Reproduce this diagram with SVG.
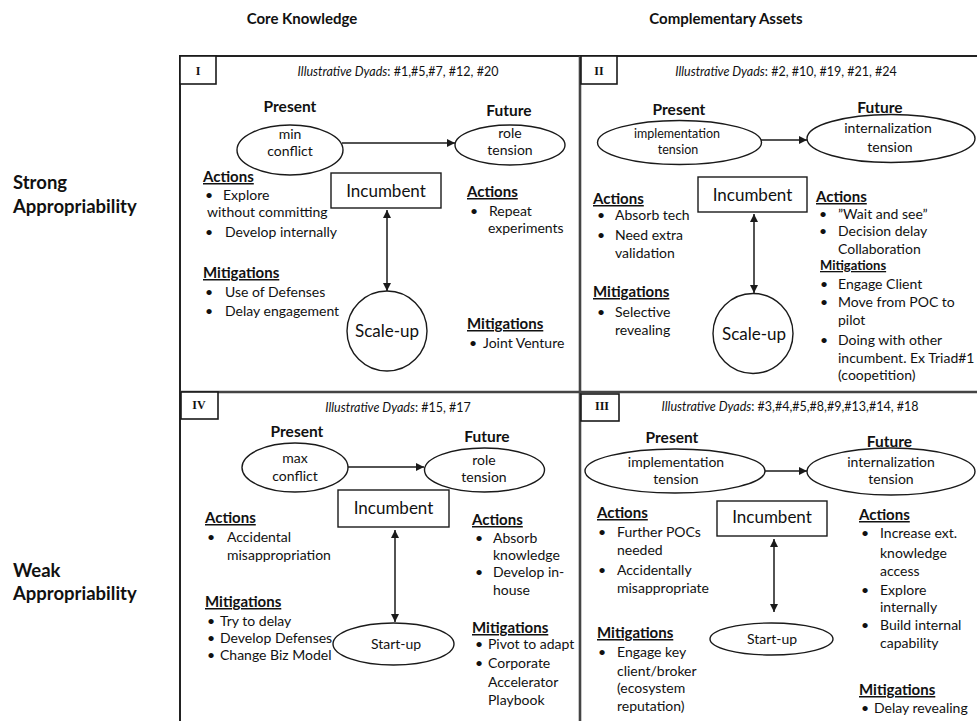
<svg xmlns="http://www.w3.org/2000/svg" width="977" height="721" viewBox="0 0 977 721">
  <style>
    text { font-family: Lato, "Liberation Sans", sans-serif; fill: #111; }
    .hdr { font-weight: bold; font-size: 15px; }
    .row { font-weight: bold; font-size: 18.5px; }
    .lbl { font-weight: bold; font-size: 15.5px; text-anchor: middle; }
    .in { font-size: 14px; text-anchor: middle; }
    .in-sm { font-size: 12.5px; text-anchor: middle; }
    .node { font-size: 17px; text-anchor: middle; }
    .sec { font-weight: bold; font-size: 15px; text-decoration: underline; }
    .sec-sm { font-weight: bold; font-size: 13px; text-decoration: underline; }
    .b { font-size: 14px; }
    .dy { font-size: 12.5px; text-anchor: middle; }
    .dy tspan.it { font-style: italic; }
    .num { font-family: "Liberation Serif", serif; font-weight: bold; font-size: 12px; text-anchor: middle; }
    .shape { fill: #fff; stroke: #1a1a1a; stroke-width: 1.4; }
    .tag { fill: #fff; stroke: #1a1a1a; stroke-width: 1.6; }
    .frame { stroke: #222; stroke-width: 2; fill: none; }
    .div { stroke: #444; stroke-width: 2.6; fill: none; }
    .arrow { stroke: #1a1a1a; stroke-width: 1.5; fill: none; marker-end: url(#head); }
    .arrow2 { stroke: #1a1a1a; stroke-width: 1.5; fill: none; marker-start: url(#head); marker-end: url(#head); }
  </style>
  <defs>
    <marker id="head" viewBox="0 0 10 10" refX="10" refY="5" markerWidth="9" markerHeight="8" markerUnits="userSpaceOnUse" orient="auto-start-reverse">
      <path d="M0,0 L10,5 L0,10 Z" fill="#1a1a1a"/>
    </marker>
  </defs>
  <rect width="977" height="721" fill="#fff"/>

  <!-- column and row headings -->
  <g id="headings">
    <text class="hdr" x="302" y="24" text-anchor="middle">Core Knowledge</text>
    <text class="hdr" x="726" y="24" text-anchor="middle">Complementary Assets</text>
    <text class="row" x="13" y="189">Strong</text>
    <text class="row" x="13" y="213">Appropriability</text>
    <text class="row" x="13" y="577">Weak</text>
    <text class="row" x="13" y="600">Appropriability</text>
  </g>

  <!-- 2x2 grid -->
  <g id="grid">
    <path class="frame" d="M180,721 V56 H977"/>
    <path class="div" d="M580,56 V721"/>
    <path class="div" d="M180,392 H977"/>
  </g>

  <!-- Quadrant I -->
  <g id="quadrant-1">
    <g id="q1-tag"><rect class="tag" x="180" y="56" width="36" height="28"/><text class="num" x="198" y="75">I</text></g>
    <text class="dy" x="398" y="76"><tspan class="it">Illustrative Dyads</tspan>: #1,#5,#7, #12, #20</text>
    <g id="q1-present">
      <text class="lbl" x="290" y="112">Present</text>
      <ellipse class="shape" cx="290" cy="150" rx="53" ry="25"/>
      <text class="in" x="290" y="139">min</text>
      <text class="in" x="290" y="156">conflict</text>
    </g>
    <g id="q1-future">
      <text class="lbl" x="509" y="116">Future</text>
      <ellipse class="shape" cx="510" cy="145" rx="55" ry="20"/>
      <text class="in" x="510" y="138">role</text>
      <text class="in" x="510" y="155">tension</text>
    </g>
    <g id="q1-incumbent">
      <rect class="shape" x="331" y="173" width="110" height="35"/>
      <text class="node" x="386" y="197">Incumbent</text>
    </g>
    <g id="q1-scaleup">
      <circle class="shape" cx="387" cy="331" r="40"/>
      <text class="node" x="387" y="337">Scale-up</text>
    </g>
    <g id="q1-notes">
      <text class="sec" x="203" y="182">Actions</text>
      <text class="b" x="205" y="200">•</text><text class="b" x="223" y="200">Explore</text>
      <text class="b" x="207" y="217">without committing</text>
      <text class="b" x="205" y="237">•</text><text class="b" x="225" y="237">Develop internally</text>
      <text class="sec" x="203" y="278">Mitigations</text>
      <text class="b" x="205" y="297">•</text><text class="b" x="225" y="297">Use of Defenses</text>
      <text class="b" x="205" y="316">•</text><text class="b" x="225" y="316">Delay engagement</text>
      <text class="sec" x="467" y="197">Actions</text>
      <text class="b" x="470" y="216">•</text><text class="b" x="489" y="216">Repeat</text>
      <text class="b" x="488" y="233">experiments</text>
      <text class="sec" x="467" y="329">Mitigations</text>
      <text class="b" x="469" y="348">•</text><text class="b" x="483" y="348">Joint Venture</text>
    </g>
  </g>

  <!-- Quadrant II -->
  <g id="quadrant-2">
    <g id="q2-tag"><rect class="tag" x="581" y="56" width="36" height="28"/><text class="num" x="599" y="75">II</text></g>
    <text class="dy" x="786" y="76"><tspan class="it">Illustrative Dyads</tspan>: #2, #10, #19, #21, #24</text>
    <g id="q2-present">
      <text class="lbl" x="679" y="115">Present</text>
      <ellipse class="shape" cx="679.5" cy="142.5" rx="82" ry="22"/>
      <text class="in-sm" x="677" y="138">implementation</text>
      <text class="in-sm" x="678" y="154">tension</text>
    </g>
    <g id="q2-future">
      <text class="lbl" x="880" y="113">Future</text>
      <ellipse class="shape" cx="891" cy="138.5" rx="84" ry="24"/>
      <text class="in" x="888" y="133">internalization</text>
      <text class="in" x="890" y="152">tension</text>
    </g>
    <g id="q2-incumbent">
      <rect class="shape" x="698" y="177" width="109" height="35"/>
      <text class="node" x="752.5" y="201">Incumbent</text>
    </g>
    <g id="q2-scaleup">
      <circle class="shape" cx="753" cy="333.5" r="40"/>
      <text class="node" x="754" y="340">Scale-up</text>
    </g>
    <g id="q2-notes">
      <text class="sec" x="593" y="204">Actions</text>
      <text class="b" x="597" y="220">•</text><text class="b" x="615" y="220">Absorb tech</text>
      <text class="b" x="597" y="240">•</text><text class="b" x="615" y="240">Need extra</text>
      <text class="b" x="615" y="258">validation</text>
      <text class="sec" x="593" y="297">Mitigations</text>
      <text class="b" x="597" y="317">•</text><text class="b" x="615" y="317">Selective</text>
      <text class="b" x="615" y="335">revealing</text>
      <text class="sec" x="816" y="202">Actions</text>
      <text class="b" x="819" y="219">•</text><text class="b" x="838" y="219">”Wait and see”</text>
      <text class="b" x="819" y="236">•</text><text class="b" x="838" y="236">Decision delay</text>
      <text class="b" x="838" y="254">Collaboration</text>
      <text class="sec-sm" x="820" y="270">Mitigations</text>
      <text class="b" x="820" y="289">•</text><text class="b" x="838" y="289">Engage Client</text>
      <text class="b" x="820" y="307">•</text><text class="b" x="838" y="307">Move from POC to</text>
      <text class="b" x="838" y="325">pilot</text>
      <text class="b" x="820" y="345">•</text><text class="b" x="838" y="345">Doing with other</text>
      <text class="b" x="838" y="363">incumbent. Ex Triad#1</text>
      <text class="b" x="838" y="380">(coopetition)</text>
    </g>
  </g>

  <!-- Quadrant IV -->
  <g id="quadrant-4">
    <g id="q4-tag"><rect class="tag" x="181" y="392" width="37" height="27"/><text class="num" x="199" y="409">IV</text></g>
    <text class="dy" x="398" y="412"><tspan class="it">Illustrative Dyads</tspan>: #15, #17</text>
    <g id="q4-present">
      <text class="lbl" x="297" y="437">Present</text>
      <ellipse class="shape" cx="295" cy="467.5" rx="53" ry="24.5"/>
      <text class="in" x="295" y="463">max</text>
      <text class="in" x="295" y="481">conflict</text>
    </g>
    <g id="q4-future">
      <text class="lbl" x="487" y="442">Future</text>
      <ellipse class="shape" cx="484.5" cy="470" rx="60" ry="22"/>
      <text class="in" x="484" y="465">role</text>
      <text class="in" x="484" y="482">tension</text>
    </g>
    <g id="q4-incumbent">
      <rect class="shape" x="338" y="490" width="111" height="37"/>
      <text class="node" x="393.5" y="514">Incumbent</text>
    </g>
    <g id="q4-startup">
      <ellipse class="shape" cx="393.5" cy="644" rx="60.5" ry="21"/>
      <text class="in" x="396" y="649">Start-up</text>
    </g>
    <g id="q4-notes">
      <text class="sec" x="205" y="523">Actions</text>
      <text class="b" x="207" y="542">•</text><text class="b" x="227" y="542">Accidental</text>
      <text class="b" x="227" y="560">misappropriation</text>
      <text class="sec" x="205" y="607">Mitigations</text>
      <text class="b" x="207" y="626">•</text><text class="b" x="220" y="626">Try to delay</text>
      <text class="b" x="207" y="643">•</text><text class="b" x="220" y="643">Develop Defenses</text>
      <text class="b" x="207" y="660">•</text><text class="b" x="220" y="660">Change Biz Model</text>
      <text class="sec" x="472" y="525">Actions</text>
      <text class="b" x="475" y="543">•</text><text class="b" x="493" y="543">Absorb</text>
      <text class="b" x="493" y="560">knowledge</text>
      <text class="b" x="475" y="577">•</text><text class="b" x="493" y="577">Develop in-</text>
      <text class="b" x="493" y="595">house</text>
      <text class="sec" x="472" y="633">Mitigations</text>
      <text class="b" x="475" y="649">•</text><text class="b" x="488" y="649">Pivot to adapt</text>
      <text class="b" x="475" y="668">•</text><text class="b" x="488" y="668">Corporate</text>
      <text class="b" x="488" y="687">Accelerator</text>
      <text class="b" x="488" y="705">Playbook</text>
    </g>
  </g>

  <!-- Quadrant III -->
  <g id="quadrant-3">
    <g id="q3-tag"><rect class="tag" x="581" y="394" width="38" height="27"/><text class="num" x="602" y="410">III</text></g>
    <text class="dy" x="790" y="411"><tspan class="it">Illustrative Dyads</tspan>: #3,#4,#5,#8,#9,#13,#14, #18</text>
    <g id="q3-present">
      <text class="lbl" x="672" y="443">Present</text>
      <ellipse class="shape" cx="675" cy="471" rx="90" ry="22"/>
      <text class="in" x="676" y="467">implementation</text>
      <text class="in" x="676" y="484">tension</text>
    </g>
    <g id="q3-future">
      <text class="lbl" x="889.5" y="447">Future</text>
      <ellipse class="shape" cx="891" cy="471.5" rx="84" ry="23.5"/>
      <text class="in" x="891" y="467">internalization</text>
      <text class="in" x="891" y="484">tension</text>
    </g>
    <g id="q3-incumbent">
      <rect class="shape" x="717" y="501" width="110" height="35"/>
      <text class="node" x="772" y="523">Incumbent</text>
    </g>
    <g id="q3-startup">
      <ellipse class="shape" cx="771.5" cy="639" rx="61.5" ry="16"/>
      <text class="in" x="772" y="644">Start-up</text>
    </g>
    <g id="q3-notes">
      <text class="sec" x="597" y="518">Actions</text>
      <text class="b" x="598" y="537">•</text><text class="b" x="617" y="537">Further POCs</text>
      <text class="b" x="617" y="555">needed</text>
      <text class="b" x="598" y="575">•</text><text class="b" x="617" y="575">Accidentally</text>
      <text class="b" x="617" y="593">misappropriate</text>
      <text class="sec" x="597" y="638">Mitigations</text>
      <text class="b" x="598" y="657">•</text><text class="b" x="617" y="657">Engage key</text>
      <text class="b" x="617" y="676">client/broker</text>
      <text class="b" x="617" y="693">(ecosystem</text>
      <text class="b" x="617" y="711">reputation)</text>
      <text class="sec" x="859" y="520">Actions</text>
      <text class="b" x="861" y="538">•</text><text class="b" x="880" y="538">Increase ext.</text>
      <text class="b" x="880" y="558">knowledge</text>
      <text class="b" x="880" y="576">access</text>
      <text class="b" x="861" y="595">•</text><text class="b" x="880" y="595">Explore</text>
      <text class="b" x="880" y="612">internally</text>
      <text class="b" x="861" y="630">•</text><text class="b" x="880" y="630">Build internal</text>
      <text class="b" x="880" y="648">capability</text>
      <text class="sec" x="859" y="695">Mitigations</text>
      <text class="b" x="861" y="713">•</text><text class="b" x="874" y="713">Delay revealing</text>
    </g>
  </g>

  <!-- connectors -->
  <g id="connectors">
    <line class="arrow" x1="342" y1="143" x2="455" y2="143"/>
    <line class="arrow2" x1="387" y1="210" x2="387" y2="291"/>
    <line class="arrow" x1="761" y1="140" x2="807" y2="140"/>
    <line class="arrow2" x1="754" y1="214" x2="754" y2="293"/>
    <line class="arrow" x1="348" y1="467" x2="424" y2="467"/>
    <line class="arrow2" x1="395" y1="530" x2="395" y2="622"/>
    <line class="arrow" x1="765" y1="471" x2="807" y2="471"/>
    <line class="arrow2" x1="774" y1="539" x2="774" y2="612"/>
  </g>
</svg>
